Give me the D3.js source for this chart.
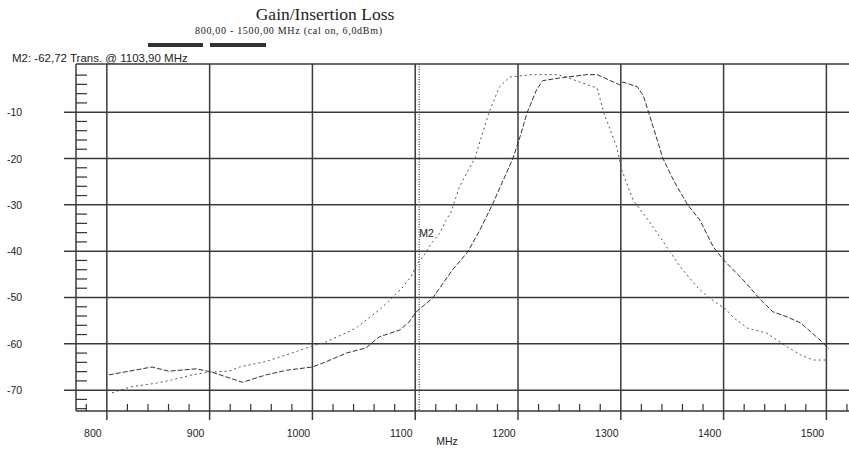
<!DOCTYPE html>
<html>
<head>
<meta charset="utf-8">
<script src="https://cdn.jsdelivr.net/npm/d3@7"></script>
<style>
body { margin: 0; background: #fff; }
svg { display: block; }
</style>
</head>
<body>
<div id="chart"></div>
<script>
// trace 1 (dotted, lower passband)
var freqA = [805, 823, 848, 863, 883, 899, 919, 929, 955, 980, 994, 1013, 1033, 1043, 1067, 1087, 1096, 1101, 1109, 1116, 1124, 1130, 1135, 1143, 1158, 1172, 1182, 1192, 1214, 1238, 1247, 1260, 1277, 1284, 1296, 1301, 1312, 1325, 1338, 1348, 1358, 1374, 1385, 1403, 1409, 1423, 1442, 1462, 1475, 1487, 1500];
var lossA = [-70.6, -69.3, -68.5, -67.8, -66.7, -66.1, -65.9, -65.0, -63.8, -62.0, -60.9, -59.6, -57.6, -56.5, -52.3, -48.0, -45.5, -43.0, -40.8, -38.2, -36.1, -33.3, -31.5, -26.1, -19.9, -9.9, -4.5, -2.4, -1.9, -1.9, -2.4, -3.5, -4.8, -10.5, -17.5, -22.5, -29.0, -32.8, -36.9, -40.2, -43.4, -47.7, -49.9, -52.7, -54.2, -56.6, -57.7, -60.7, -62.4, -63.5, -63.5];

// trace 2 (dashed, upper passband)
var freqB = [802, 844, 860, 887, 902, 932, 955, 975, 1000, 1013, 1033, 1052, 1065, 1085, 1094, 1101, 1117, 1136, 1151, 1163, 1175, 1195, 1202, 1209, 1218, 1224, 1241, 1267, 1277, 1299, 1302, 1316, 1322, 1327, 1341, 1352, 1365, 1377, 1390, 1400, 1419, 1436, 1448, 1462, 1475, 1496, 1502];
var lossB = [-66.7, -65.0, -65.9, -65.4, -66.1, -68.3, -66.7, -65.7, -65.0, -63.9, -62.0, -60.9, -58.5, -57.0, -55.3, -53.1, -50.1, -44.1, -40.2, -35.4, -30.0, -20.0, -15.3, -10.0, -5.2, -3.2, -2.6, -1.9, -1.9, -4.1, -3.5, -4.5, -6.5, -10.0, -20.0, -25.0, -30.0, -33.3, -39.1, -41.9, -46.2, -50.5, -53.1, -54.2, -55.5, -59.6, -61.0];

var xTicks = [800, 900, 1000, 1100, 1200, 1300, 1400, 1500];
var yTicks = [-10, -20, -30, -40, -50, -60, -70];

var markerFreq = 1103.90;
var markerLevel = -37;
var markerName = "M2";

var width = 849, height = 450;

var svg = d3.select("#chart").append("svg")
    .attr("width", width)
    .attr("height", height)
    .style("font-family", "'Liberation Sans', Arial, sans-serif");

var x = d3.scaleLinear().domain([770, 1522]).range([76, 849]);
var y = d3.scaleLinear().domain([0.4, -74.5]).range([64, 411]);

var gridColor = "#3a3a3a";

// titles
svg.append("text")
    .attr("x", 325).attr("y", 20)
    .attr("text-anchor", "middle")
    .style("font-family", "'Liberation Serif', 'Times New Roman', serif")
    .style("font-size", "17.5px")
    .attr("fill", "#222")
    .text("Gain/Insertion Loss");
svg.append("text")
    .attr("x", 195).attr("y", 34)
    .attr("textLength", 187)
    .attr("lengthAdjust", "spacing")
    .style("font-family", "'Liberation Serif', 'Times New Roman', serif")
    .style("font-size", "10px")
    .attr("fill", "#222")
    .text("800,00 - 1500,00 MHz (cal on, 6,0dBm)");

// the two trace bars under the title
svg.append("rect").attr("x", 148).attr("y", 43).attr("width", 55).attr("height", 4).attr("fill", "#333");
svg.append("rect").attr("x", 210).attr("y", 43).attr("width", 56).attr("height", 4).attr("fill", "#333");

svg.append("text")
    .attr("x", 12).attr("y", 62)
    .style("font-size", "11.5px")
    .attr("fill", "#222")
    .text("M2: -62,72 Trans. @ 1103,90 MHz");

// frame
svg.append("line").attr("x1", 76).attr("x2", width).attr("y1", 64).attr("y2", 64)
    .attr("stroke", gridColor).attr("stroke-width", 1.5);
svg.append("line").attr("x1", 76).attr("x2", 76).attr("y1", 64).attr("y2", 411)
    .attr("stroke", gridColor).attr("stroke-width", 1.5);
svg.append("line").attr("x1", 76).attr("x2", width).attr("y1", 411).attr("y2", 411)
    .attr("stroke", gridColor).attr("stroke-width", 1.5);

// grid
svg.selectAll(".hgrid")
    .data(yTicks)
    .enter()
    .append("line")
    .attr("class", "hgrid")
    .attr("x1", 64).attr("x2", width)
    .attr("y1", function (d) { return y(d); })
    .attr("y2", function (d) { return y(d); })
    .attr("stroke", gridColor).attr("stroke-width", 1.5);

svg.selectAll(".vgrid")
    .data(xTicks)
    .enter()
    .append("line")
    .attr("class", "vgrid")
    .attr("x1", function (d) { return x(d); })
    .attr("x2", function (d) { return x(d); })
    .attr("y1", 64).attr("y2", 420)
    .attr("stroke", gridColor).attr("stroke-width", 1.5);

// minor ticks
var yMinor = d3.range(-2, -75, -2).filter(function (d) { return d % 10 !== 0; });
svg.selectAll(".ymin")
    .data(yMinor)
    .enter()
    .append("line")
    .attr("x1", 76).attr("x2", 87)
    .attr("y1", function (d) { return y(d); })
    .attr("y2", function (d) { return y(d); })
    .attr("stroke", "#333").attr("stroke-width", 1.2);

var xMinor = d3.range(780, 1521, 20).filter(function (d) { return d % 100 !== 0; });
svg.selectAll(".xmin")
    .data(xMinor)
    .enter()
    .append("line")
    .attr("x1", function (d) { return x(d); })
    .attr("x2", function (d) { return x(d); })
    .attr("y1", 411).attr("y2", 404)
    .attr("stroke", "#333").attr("stroke-width", 1.2);

// tick labels
svg.selectAll(".ylab")
    .data(yTicks)
    .enter()
    .append("text")
    .attr("x", 7)
    .attr("y", function (d) { return y(d) + 4; })
    .style("font-size", "10.5px")
    .attr("fill", "#222")
    .text(function (d) { return d; });

svg.selectAll(".xlab")
    .data(xTicks)
    .enter()
    .append("text")
    .attr("x", function (d) { return x(d) - 14; })
    .attr("y", 437)
    .attr("text-anchor", "middle")
    .style("font-size", "10.5px")
    .attr("fill", "#222")
    .text(function (d) { return d; });

svg.append("text")
    .attr("x", 447).attr("y", 445)
    .attr("text-anchor", "middle")
    .style("font-size", "10.5px")
    .attr("fill", "#222")
    .text("MHz");

// marker
svg.append("line")
    .attr("x1", x(markerFreq)).attr("x2", x(markerFreq))
    .attr("y1", 64).attr("y2", 411)
    .attr("stroke", "#666").attr("stroke-width", 1.5)
    .attr("stroke-dasharray", "1,1.5");
svg.append("text")
    .attr("x", x(markerFreq)).attr("y", y(markerLevel))
    .style("font-size", "10.5px")
    .attr("fill", "#222")
    .text(markerName);

// traces
var line = d3.line()
    .x(function (d) { return x(d[0]); })
    .y(function (d) { return y(d[1]); });

svg.append("path")
    .datum(d3.zip(freqA, lossA))
    .attr("fill", "none")
    .attr("stroke", "#555")
    .attr("stroke-width", 1)
    .attr("stroke-dasharray", "2,3")
    .attr("d", line);

svg.append("path")
    .datum(d3.zip(freqB, lossB))
    .attr("fill", "none")
    .attr("stroke", "#333")
    .attr("stroke-width", 1)
    .attr("stroke-dasharray", "5,2")
    .attr("d", line);
</script>
</body>
</html>
